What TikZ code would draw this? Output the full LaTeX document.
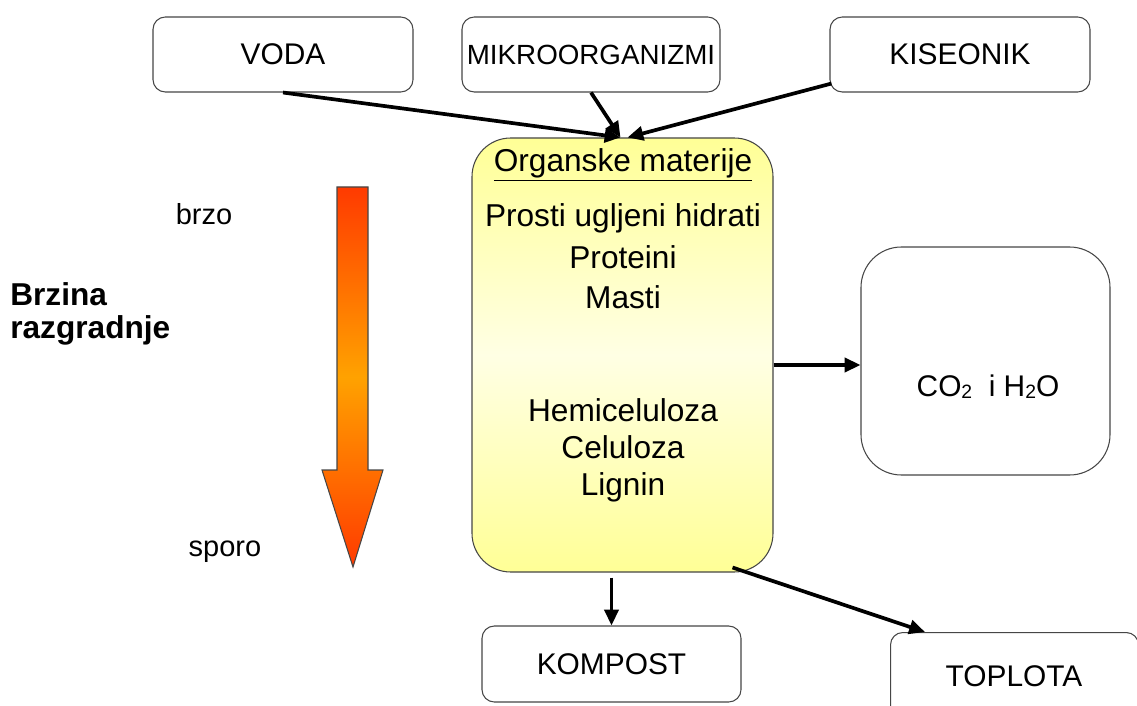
\documentclass[tikz,border=0pt]{standalone}
\usepackage{fontspec}
\setmainfont{Liberation Sans}
\usetikzlibrary{arrows.meta,calc}
\definecolor{boxline}{RGB}{70,70,70}
\definecolor{ytop}{RGB}{255,255,150}
\definecolor{ymid}{RGB}{255,255,228}
\definecolor{ored}{RGB}{255,58,0}
\definecolor{oorange}{RGB}{255,162,0}
\newcommand{\smallsub}[1]{\raisebox{-1.2pt}{\fontsize{11}{11}\selectfont #1}}
\tikzset{
  px/.style={x=0.02cm,y=-0.02cm},
  lbox/.style={draw=boxline,line width=0.6pt,rounded corners=7pt,fill=white,
    inner sep=0pt,font=\fontsize{17}{20}\selectfont},
  conn/.style={line width=2.1pt,-{Triangle[length=9pt,width=8pt]}},
  orgtxt/.style={inner sep=0pt,font=\fontsize{18}{21}\selectfont},
  sidetxt/.style={inner sep=0pt,font=\fontsize{16.5}{19}\selectfont}
}
\begin{document}
\begin{tikzpicture}[px]
\useasboundingbox (0,0) rectangle (1137,706);
\clip (0,0) rectangle (1137,706);
% top boxes
\node[lbox,minimum width=260*0.02cm,minimum height=75*0.02cm] (voda) at (283,54.5) {VODA};
\node[lbox,minimum width=258*0.02cm,minimum height=75*0.02cm,font=\fontsize{15.8}{18}\selectfont] (mikro) at (591,54.5) {MIKROORGANIZMI};
\node[lbox,minimum width=260*0.02cm,minimum height=75*0.02cm] (kis) at (960,54.5) {KISEONIK};
% central box
\node[draw=boxline,line width=0.6pt,rounded corners=22pt,top color=ytop,bottom color=ytop,middle color=ymid,
  minimum width=301*0.02cm,minimum height=434*0.02cm,inner sep=0pt] (org) at (622.5,355) {};
\node[orgtxt] (t0) at (623,165) {\underline{Organske materije}};
\node[orgtxt] (t1) at (623,218) {Prosti ugljeni hidrati};
\node[orgtxt] (t2) at (623,257) {Proteini};
\node[orgtxt] (t3) at (623,297) {Masti};
\node[orgtxt] (t4) at (623,410) {Hemiceluloza};
\node[orgtxt] (t5) at (623,447) {Celuloza};
\node[orgtxt] (t6) at (623,487) {Lignin};
% CO2 box
\node[lbox,rounded corners=23pt,minimum width=249*0.02cm,minimum height=228*0.02cm] (co2) at (985.5,361) {};
\node[inner sep=0pt,font=\fontsize{17}{20}\selectfont] (co2txt) at (988,387) {CO\smallsub{2}~ i H\smallsub{2}O};
% bottom boxes
\node[lbox,minimum width=259*0.02cm,minimum height=76*0.02cm] (komp) at (611.5,664) {KOMPOST};
\node[lbox,minimum width=248*0.02cm,minimum height=88*0.02cm,anchor=north west] (topl) at (890,632) {};
\node[inner sep=0pt,font=\fontsize{17}{20}\selectfont] (topltxt) at (1014,676) {TOPLOTA};
% speed arrow
\draw[draw=boxline,line width=0.6pt,top color=ored,bottom color=ored,middle color=oorange]
  (337,187) -- (368,187) -- (368,470) -- (383,470) -- (353,567) -- (322,470) -- (337,470) -- cycle;
\node[sidetxt] (brzo) at (204,214) {brzo};
\node[sidetxt] (sporo) at (225,552) {sporo};
\node[inner sep=0pt,anchor=west,align=left,font=\fontsize{18}{18.5}\bfseries\selectfont] (brzina) at (10,314) {Brzina\\razgradnje};
% connectors
\draw[conn] (voda.south) -- ($(org.north)+(-2,0)$);
\draw[conn] (mikro.south) -- ($(org.north)+(-2,0)$);
\draw[conn] ($(kis.south west)+(2,-9)$) -- ($(org.north)+(5,0)$);
\draw[conn] ($(org.east)+(0,10)$) -- ($(org.east -| co2.west)+(0,10)$);
\draw[conn] ($(komp.north |- org.south)+(0,5)$) -- (komp.north);
\draw[conn] ($(org.south east)+(-41,-5)$) -- ($(topl.north west)+(35,0)$);
\end{tikzpicture}
\end{document}
